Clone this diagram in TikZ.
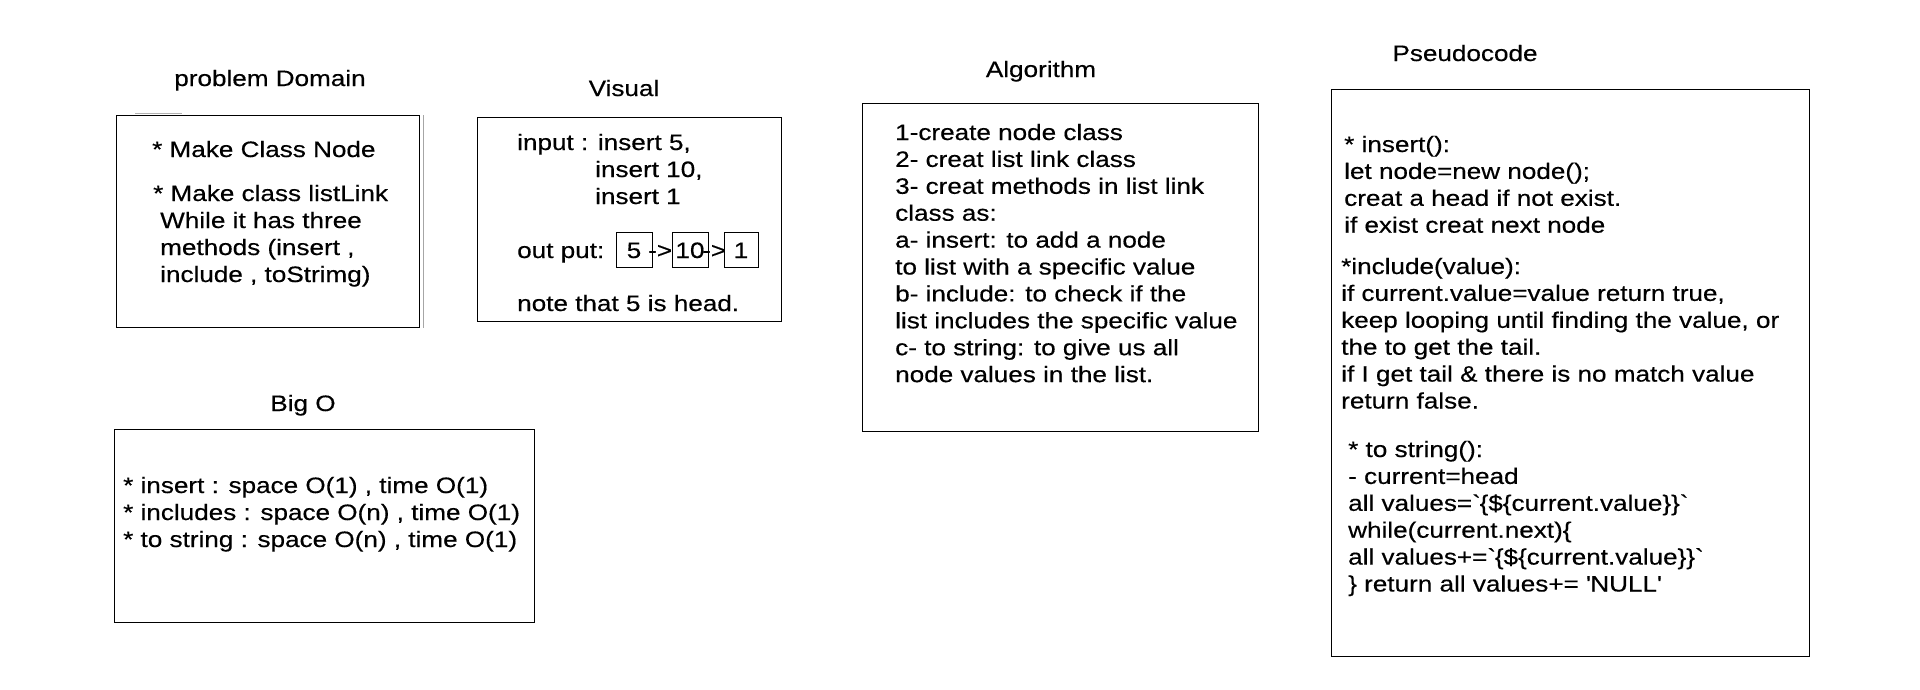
\documentclass[tikz,border=0pt]{standalone}
\usepackage{fontspec}
\setmainfont{Liberation Sans}[FakeStretch=1.17,FakeBold=0.4]
\begin{document}
\begin{tikzpicture}[x=1pt,y=-1pt,
  fs/.style={font=\fontsize{22.3}{26.7}\selectfont},
  txt/.style={fs,anchor=base west,inner sep=0pt},
  ttl/.style={fs,anchor=base,inner sep=0pt},
  panel/.style={draw=black,line width=1.3pt,anchor=north west,inner sep=0pt,fill=none},
  cell/.style={draw=black,line width=1.1pt,anchor=north west,inner sep=0pt,minimum height=35pt}]
\useasboundingbox[fill=white] (0,0) rectangle (1920,689);

% ---------- problem Domain ----------
\node[ttl] (pdt) at (270,86) {problem Domain};
\node[panel,minimum width=303pt,minimum height=212pt] (pd) at (116,115) {};
\draw[gray!70,line width=1.3pt] ([xshift=3pt]pd.north east) -- ([xshift=3pt]pd.south east);
\draw[gray!60,line width=1pt] ([xshift=19pt,yshift=2pt]pd.north west) -- ([xshift=66pt,yshift=2pt]pd.north west);
\node[txt] (pd1) at (152,157) {* Make Class Node};
\node[txt] (pd2) at (153,201) {* Make class listLink};
\node[txt] (pd3) at (160,228) {While it has three};
\node[txt] (pd4) at (160,255) {methods (insert ,};
\node[txt] (pd5) at (160,282) {include , toStrimg)};

% ---------- Visual ----------
\node[ttl] (vt) at (624,96) {Visual};
\node[panel,minimum width=304pt,minimum height=204pt] (vis) at (477,117) {};
\node[txt] (v1) at (517,150) {input : insert 5,};
\node[txt] (v2) at (595,177) {insert 10,};
\node[txt] (v3) at (595,204) {insert 1};
\node[txt] (v4) at (517,258) {out put:};
\node[cell,minimum width=36pt] (c1) at (616,232) {};
\node[cell,minimum width=36pt] (c2) at (672,232) {};
\node[cell,minimum width=34pt] (c3) at (724,232) {};
\node[fs,anchor=base,inner sep=0pt] (n1) at (634,258) {5};
\node[fs,anchor=base,inner sep=0pt] (n2) at (690,258) {10};
\node[fs,anchor=base,inner sep=0pt] (n3) at (741,258) {1};
\node[txt] (a1) at (648,258) {->};
\node[txt] (a2) at (702,258) {->};
\node[txt] (v5) at (517,311) {note that 5 is head.};

% ---------- Big O ----------
\node[ttl] (bt) at (303,411) {Big O};
\node[panel,minimum width=420pt,minimum height=193pt] (big) at (114,429) {};
\node[txt] (b1) at (123,493) {* insert : space O(1) , time O(1)};
\node[txt] (b2) at (123,520) {* includes : space O(n) , time O(1)};
\node[txt] (b3) at (123,547) {* to string : space O(n) , time O(1)};

% ---------- Algorithm ----------
\node[ttl] (at) at (1041,77) {Algorithm};
\node[panel,minimum width=396pt,minimum height=328pt] (alg) at (862,103) {};
\foreach \t [count=\i] in {{1-create node class},{2- creat list link class},{3- creat methods in list link},{class as:},{a- insert: to add a node},{to list with a specific value},{b- include: to check if the},{list includes the specific value},{c- to string: to give us all},{node values in the list.}}
  \node[txt] (al\i) at (895,{140+26.9*(\i-1)}) {\t};

% ---------- Pseudocode ----------
\node[ttl] (pt) at (1465,61) {Pseudocode};
\node[panel,minimum width=478pt,minimum height=567pt] (ps) at (1331,89) {};
\foreach \t [count=\i] in {{* insert():},{let node=new node();},{creat a head if not exist.},{if exist creat next node}}
  \node[txt] (pa\i) at (1344,{152+26.9*(\i-1)}) {\t};
\foreach \t [count=\i] in {{*include(value):},{if current.value=value return true,},{keep looping until finding the value, or},{the to get the tail.},{if I get tail \& there is no match value},{return false.}}
  \node[txt] (pb\i) at (1341,{274+26.9*(\i-1)}) {\t};
\foreach \t [count=\i] in {{* to string():},{- current=head},{all values=\textasciigrave\{\$\{current.value\}\}\textasciigrave},{while(current.next)\{},{all values+=\textasciigrave\{\$\{current.value\}\}\textasciigrave},{\} return all values+= \textquotesingle NULL\textquotesingle}}
  \node[txt] (pc\i) at (1348,{457+26.9*(\i-1)}) {\t};
\end{tikzpicture}
\end{document}
